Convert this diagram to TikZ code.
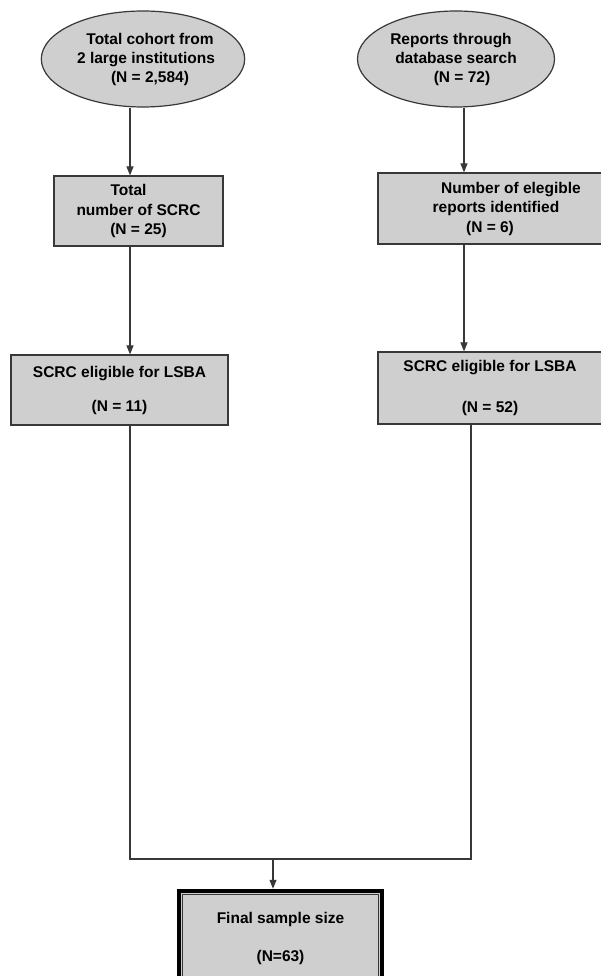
\documentclass[tikz,border=0pt]{standalone}
\usepackage{fontspec}
\setmainfont{Liberation Sans}
\usetikzlibrary{arrows.meta, shapes.geometric}
\definecolor{boxgray}{HTML}{CFCFCF}
\definecolor{edgegray}{HTML}{383838}
\tikzset{
	source/.style={ellipse, draw=edgegray, line width=1.2pt, fill=boxgray, inner sep=0pt, align=center, font=\bfseries\fontsize{15.5}{19}\selectfont},
	stagebox/.style={rectangle, draw=edgegray, line width=1.2pt, fill=boxgray, inner sep=0pt, align=center, font=\bfseries\fontsize{15.5}{19.5}\selectfont},
	finalbox/.style={rectangle, draw=black, line width=4.5pt, fill=boxgray, inner sep=0pt, align=center, font=\bfseries\fontsize{15.5}{19.5}\selectfont},
	arr/.style={-{Triangle[length=9pt, width=7pt]}},
	link/.style={draw=edgegray, line width=1.1pt}
}
\begin{document}
\begin{tikzpicture}[x=1pt, y=-1pt]
		\useasboundingbox[fill=white] (0, 0) rectangle (600, 976);
		% columns of the connectors
		\coordinate (lx) at (130, 0);
		\coordinate (rx) at (464, 0);
		\coordinate (jl) at (130, 859);
		\coordinate (jr) at (471, 859);
		\coordinate (mrg) at (273, 859);
		% left branch
		\node[source, minimum width=196pt, minimum height=96pt] (cohort) at (143, 59) {\hspace*{14pt}Total cohort from\\\hspace*{6pt}2 large institutions\\\hspace*{14pt}(N = 2,584)};
		\node[stagebox, minimum width=169pt, minimum height=70pt] (total) at (138.5, 211) {Total\hspace*{20pt}\\number of SCRC\\(N = 25)};
		\node[stagebox, minimum width=217pt, minimum height=70pt] (eligl) at (119.5, 390) {SCRC eligible for LSBA\\[14.5pt](N = 11)};
		% right branch
		\node[source, minimum width=197pt, minimum height=96pt] (search) at (456, 59) {Reports through\hspace*{10pt}\\database search\hspace*{2pt}\\\hspace*{12pt}(N = 72)};
		\node[stagebox, minimum width=224pt, minimum height=71pt] (report) at (490, 208.5) {\hspace*{42pt}Number of elegible\\\hspace*{12pt}reports identified\\(N = 6)};
		\node[stagebox, minimum width=224pt, minimum height=72pt] (eligr) at (490, 388) {SCRC eligible for LSBA\\[21.5pt](N = 52)};
		% final
		\node[finalbox, minimum width=203pt, minimum height=94pt] (final) at (280.5, 938) {Final sample size\\[18.5pt](N=63)};
		\draw[edgegray, line width=0.8pt] ([xshift=6pt, yshift=-6pt]final.north west) rectangle ([xshift=-6pt, yshift=6pt]final.south east);
		% connectors
		\draw[link, arr] (cohort.south -| lx) -- (total.north -| lx);
		\draw[link, arr] (total.south -| lx) -- (eligl.north -| lx);
		\draw[link, arr] (search.south -| rx) -- (report.north -| rx);
		\draw[link, arr] (report.south -| rx) -- (eligr.north -| rx);
		\draw[link] (eligl.south -| jl) -- (jl) -- (jr) -- (eligr.south -| jr);
		\draw[link, arr] (mrg) -- (final.north -| mrg);
	\end{tikzpicture}
\end{document}
